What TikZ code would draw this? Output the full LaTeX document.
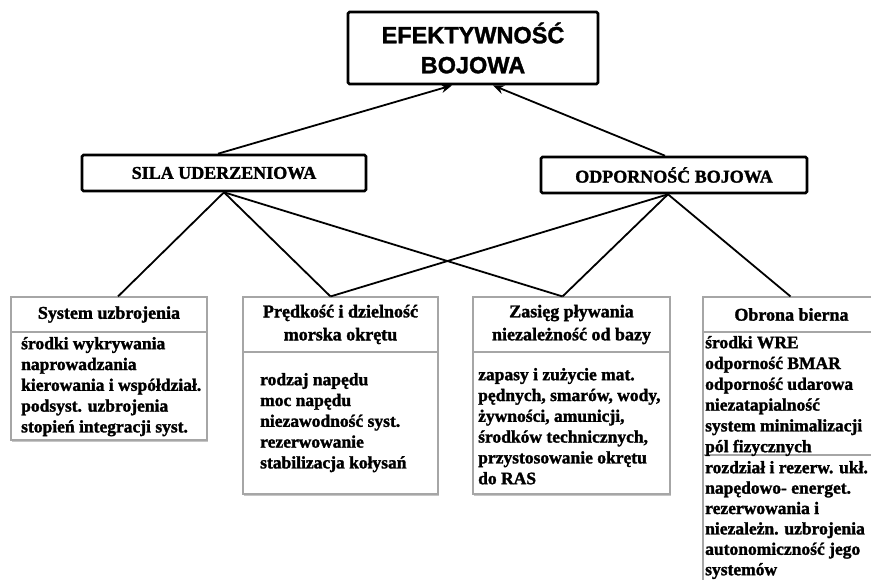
\documentclass[tikz,border=0pt]{standalone}
\usepackage{fontspec}
\setmainfont{Liberation Serif}
% heavier faces for the box texts
\newfontfamily\heavyserif[FakeBold=1.6]{Liberation Serif}
\newfontfamily\titlesans[FakeBold=1.4]{Liberation Sans}
\usetikzlibrary{arrows.meta,shadows}
% strut that fixes the height of the first line of a text block
\newcommand\bxstrut{\rule{0pt}{16pt}}
\begin{document}
\begin{tikzpicture}[x=1pt,y=-1pt,
  topbox/.style={draw=black, line width=2.8pt, rounded corners=1.5pt, inner sep=0pt,
    font=\titlesans\bfseries\fontsize{23.5}{30}\selectfont, align=center},
  midbox/.style={draw=black, line width=2.6pt, rounded corners=1.5pt, inner sep=0pt,
    font=\heavyserif\bfseries\fontsize{18}{22}\selectfont},
  cell/.style={draw=gray!70, line width=1.1pt, inner sep=0pt, fill=white},
  shcell/.style={cell, drop shadow={shadow xshift=0.8pt, shadow yshift=-1.6pt, fill=gray!45, opacity=1}},
  headtxt/.style={font=\heavyserif\bfseries\fontsize{18}{23}\selectfont, align=center},
  bodytxt/.style={font=\heavyserif\bfseries\fontsize{17.5}{20.8}\selectfont, align=left,
    anchor=north west, inner sep=0pt},
  link/.style={line width=1.8pt, draw=black},
  arrowlink/.style={link, -{Stealth[length=11pt,width=9pt]}}
]
\useasboundingbox (0,0) rectangle (871,579);

% top level
\node[topbox, minimum width=250pt, minimum height=72pt] (eff) at (473,48)
  {EFEKTYWNOŚĆ\\BOJOWA};

% second level
\node[midbox, minimum width=284pt, minimum height=36pt] (sila) at (224,173) {SILA UDERZENIOWA};
\node[midbox, minimum width=266pt, minimum height=36pt] (odp) at (674,175) {ODPORNOŚĆ BOJOWA};

% system uzbrojenia
\node[shcell, minimum width=196pt, minimum height=108pt] (sysbody) at (109,386) {};
\node[cell, headtxt, minimum width=196pt, minimum height=35pt] (syshead) at (109,314.5) {System uzbrojenia};
\node[bodytxt] (systxt) at (21,333) {\bxstrut środki wykrywania\\naprowadzania\\kierowania i współdział.\\podsyst. uzbrojenia\\stopień integracji syst.};

% prędkość i dzielność
\node[shcell, minimum width=195pt, minimum height=142pt] (prdbody) at (340.5,423) {};
\node[cell, headtxt, minimum width=195pt, minimum height=55pt] (prdhead) at (340.5,324.5) {Prędkość i dzielność\\morska okrętu};
\node[bodytxt] (prdtxt) at (260,369) {\bxstrut rodzaj napędu\\moc napędu\\niezawodność syst.\\rezerwowanie\\stabilizacja kołysań};

% zasięg pływania
\node[shcell, minimum width=197pt, minimum height=142pt] (zasbody) at (571.5,423) {};
\node[cell, headtxt, minimum width=197pt, minimum height=55pt] (zashead) at (571.5,324.5) {Zasięg pływania\\niezależność od bazy};
\node[bodytxt] (zastxt) at (478,364) {\bxstrut zapasy i zużycie  mat.\\pędnych, smarów, wody,\\żywności, amunicji,\\środków technicznych,\\przystosowanie okrętu\\do RAS};

% obrona bierna
\node[cell, minimum width=177pt, minimum height=145pt] (obrbodyb) at (791.5,527.5) {};
\node[cell, minimum width=177pt, minimum height=123pt] (obrbodya) at (791.5,393.5) {};
\node[cell, headtxt, minimum width=177pt, minimum height=35pt] (obrhead) at (791.5,314.5) {Obrona bierna};
\node[bodytxt] (obrtxta) at (705,332) {\bxstrut środki WRE\\odporność BMAR\\odporność udarowa\\niezatapialność\\system minimalizacji\\pól fizycznych};
\node[bodytxt, font=\heavyserif\bfseries\fontsize{17.5}{20.4}\selectfont] (obrtxtb) at (705,457)
  {\bxstrut rozdział i rezerw. ukł.\\napędowo- energet.\\rezerwowania i\\niezależn. uzbrojenia\\autonomiczność jego\\systemów};

% arrows to the top
\draw[arrowlink] ([xshift=-6pt]sila.north) -- ([xshift=-21pt]eff.south);
\draw[arrowlink] ([xshift=-9pt]odp.north) -- ([xshift=20pt]eff.south);

% links to the lower boxes
\draw[link] (sila.south) -- ([xshift=9pt]syshead.north);
\draw[link] (sila.south) -- ([xshift=-10pt]prdhead.north);
\draw[link] (sila.south) -- ([xshift=-9pt]zashead.north);
\draw[link] ([xshift=-6pt]odp.south) -- ([xshift=-10pt]prdhead.north);
\draw[link] ([xshift=-6pt]odp.south) -- ([xshift=-9pt]zashead.north);
\draw[link] ([xshift=-6pt]odp.south) -- ([xshift=-1pt]obrhead.north);
\end{tikzpicture}
\end{document}
